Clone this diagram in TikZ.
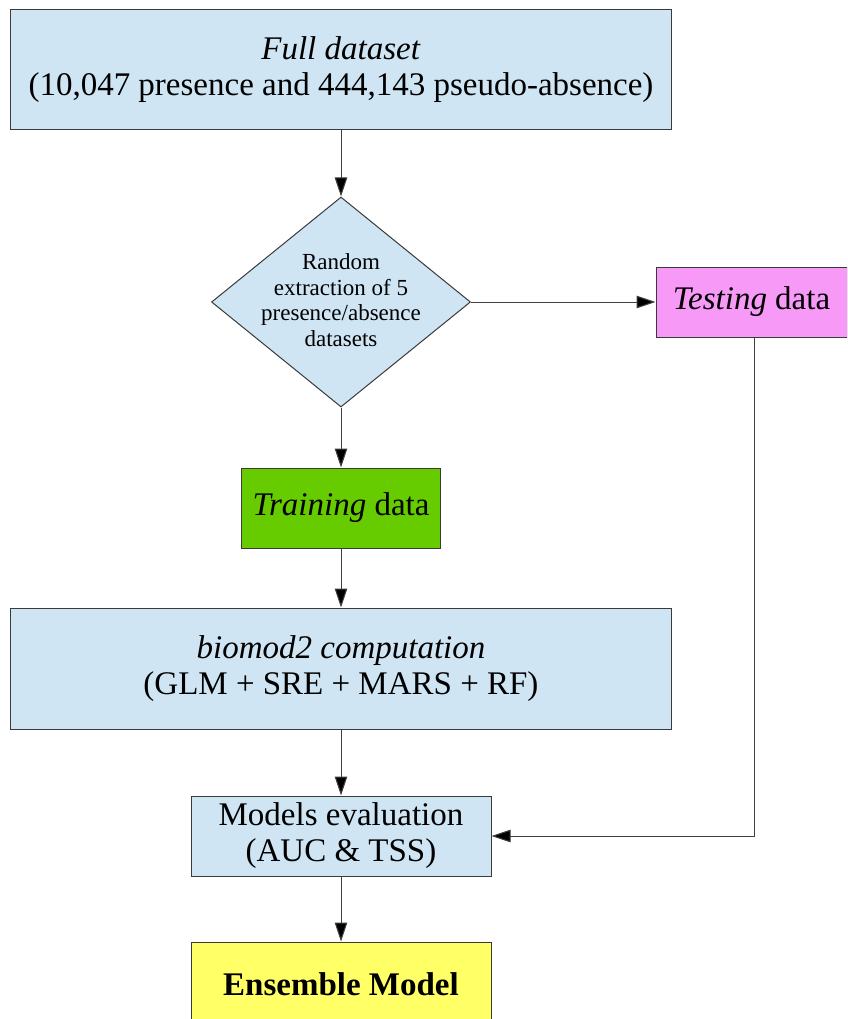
\documentclass[tikz,border=0pt]{standalone}
\usepackage{fontspec}
\setmainfont{Liberation Serif}
\usetikzlibrary{shapes.geometric,arrows.meta}
\definecolor{paleblue}{HTML}{CFE5F3}
\definecolor{pinkbox}{HTML}{F799F7}
\definecolor{greenbox}{HTML}{66CC00}
\definecolor{yellowbox}{HTML}{FFFF66}
\definecolor{edge}{HTML}{3A3A3A}
\tikzset{
  box/.style={draw=edge, line width=1pt, inner sep=0pt, align=center},
  big/.style={font=\fontsize{33}{36}\selectfont},
  conn/.style={draw=black!75, line width=1pt, -{Triangle[length=19pt,width=12.5pt,fill=black]}},
}
\begin{document}
\begin{tikzpicture}[x=1pt,y=-1pt]
\clip (0,0) rectangle (847,1019);
\fill[white] (0,0) rectangle (847,1019);
\node[box, big, fill=paleblue, minimum width=661pt, minimum height=120pt] (full) at (341,70)
  {\textit{Full dataset}\\(10,047 presence and 444,143 pseudo-absence)};
\node[box, diamond, fill=paleblue, minimum width=259pt, minimum height=210pt] (rand) at (341,302) {};
\node[align=center, font=\fontsize{23}{25.5}\selectfont] (randtxt) at (341,300)
  {Random\\extraction of 5\\presence/absence\\datasets};
\node[box, big, fill=pinkbox, minimum width=191pt, minimum height=70pt] (test) at (751.5,302)
  {\textit{Testing} data};
\node[box, big, fill=greenbox, minimum width=199pt, minimum height=80pt] (train) at (341,508)
  {\textit{Training} data};
\node[box, big, fill=paleblue, minimum width=661pt, minimum height=121pt] (bio) at (341,668.5)
  {\textit{biomod2 computation}\\(GLM + SRE + MARS + RF)};
\node[box, big, fill=paleblue, minimum width=300pt, minimum height=80pt] (eval) at (341,836)
  {Models evaluation\\(AUC \& TSS)};
\node[box, big, fill=yellowbox, minimum width=300pt, minimum height=84pt] (ens) at (341,984)
  {\textbf{Ensemble Model}};
\draw[conn] (full) -- (rand);
\draw[conn] (rand) -- (test);
\draw[conn] (rand) -- (train);
\draw[conn] (train) -- (bio);
\draw[conn] (bio) -- (eval);
\draw[conn] (eval) -- (ens);
\draw[conn] ([xshift=2.5pt]test.south) |- (eval.east);
\end{tikzpicture}
\end{document}
